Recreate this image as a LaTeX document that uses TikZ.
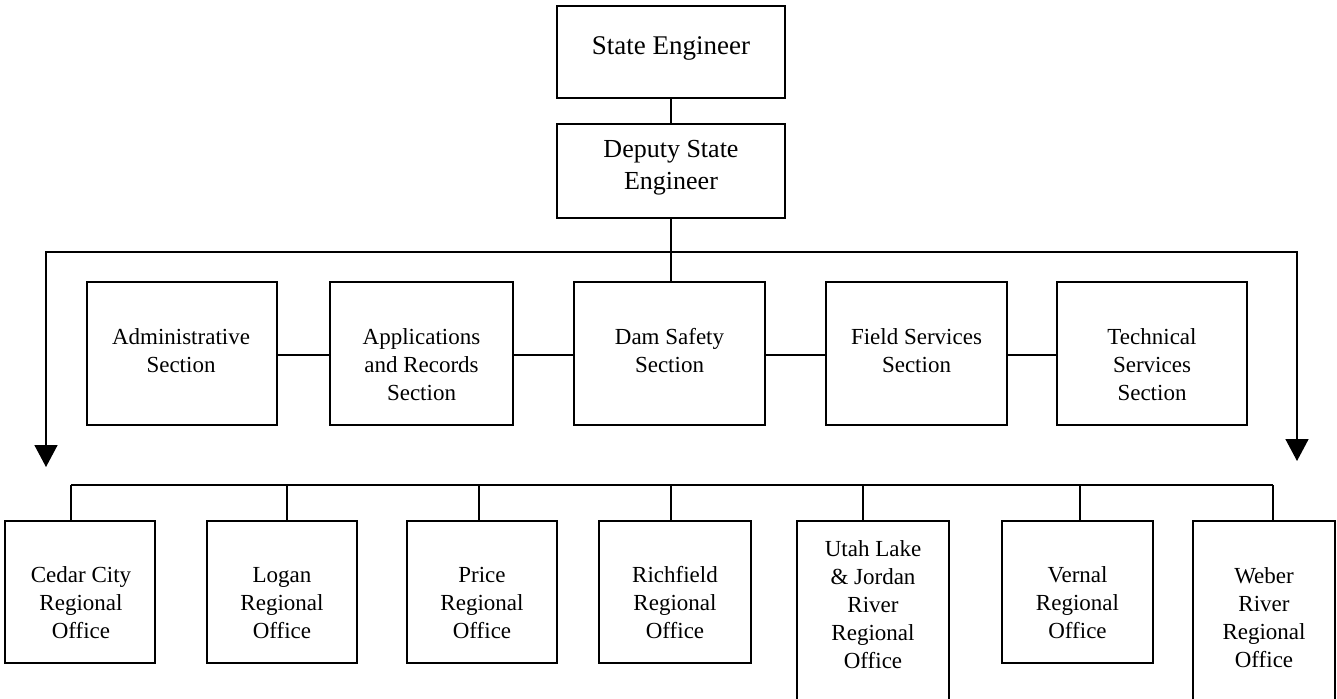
\documentclass[tikz,border=0pt]{standalone}
\usepackage{fontspec}
\setmainfont{Liberation Serif}
\usetikzlibrary{arrows.meta}
\tikzset{
  box/.style={draw, line width=1.6pt, inner sep=0pt},
  lbl/.style={align=center, inner sep=0pt, font=\fontsize{23}{28}\selectfont},
  toplbl/.style={align=center, inner sep=0pt, font=\fontsize{26}{32}\selectfont},
  conn/.style={line width=1.6pt},
  arr/.style={line width=1.6pt, -{Triangle[length=22pt,width=23pt]}}
}
\begin{document}
\begin{tikzpicture}[x=1pt,y=-1pt]
\useasboundingbox (0,0) rectangle (1337,698);
% top
\node[box, minimum width=228pt, minimum height=92pt] (se) at (671,52) {};
\node[toplbl, font=\fontsize{27}{32}\selectfont] (set) at (671,48) {State Engineer};
\node[box, minimum width=228pt, minimum height=94pt] (dse) at (671,171) {};
\node[toplbl] (dset) at (671,168) {Deputy State\\Engineer};
% sections
\node[box, minimum width=190pt, minimum height=143pt] (adm) at (182,353.5) {};
\node[lbl] (admt) at (181,351) {Administrative\\Section};
\node[box, minimum width=183pt, minimum height=143pt] (app) at (421.5,353.5) {};
\node[lbl] (appt) at (421.5,365) {Applications\\and Records\\Section};
\node[box, minimum width=191pt, minimum height=143pt] (dam) at (669.5,353.5) {};
\node[lbl] (damt) at (669.5,351) {Dam Safety\\Section};
\node[box, minimum width=181pt, minimum height=143pt] (fld) at (916.5,353.5) {};
\node[lbl] (fldt) at (916.5,351) {Field Services\\Section};
\node[box, minimum width=190pt, minimum height=143pt] (tec) at (1152,353.5) {};
\node[lbl] (tect) at (1152,365) {Technical\\Services\\Section};
% offices
\node[box, minimum width=150pt, minimum height=142pt] (ced) at (80,592) {};
\node[lbl] (cedt) at (81,603) {Cedar City\\Regional\\Office};
\node[box, minimum width=150pt, minimum height=142pt] (log) at (282,592) {};
\node[lbl] (logt) at (282,603) {Logan\\Regional\\Office};
\node[box, minimum width=150pt, minimum height=142pt] (pri) at (482,592) {};
\node[lbl] (prit) at (482,603) {Price\\Regional\\Office};
\node[box, minimum width=152pt, minimum height=142pt] (ric) at (675,592) {};
\node[lbl] (rict) at (675,603) {Richfield\\Regional\\Office};
\node[box, minimum width=152pt, minimum height=199pt] (uta) at (873,620.5) {};
\node[lbl] (utat) at (873,605) {Utah Lake\\\&~Jordan\\River\\Regional\\Office};
\node[box, minimum width=151pt, minimum height=142pt] (ver) at (1077.5,592) {};
\node[lbl] (vert) at (1077.5,603) {Vernal\\Regional\\Office};
\node[box, minimum width=142pt, minimum height=199pt] (web) at (1264,620.5) {};
\node[lbl] (webt) at (1264,618) {Weber\\River\\Regional\\Office};
% connectors top
\draw[conn] (se.south) -- (dse.north);
\draw[conn] (dse.south) -- (dse.south |- dam.north);
\coordinate (jL) at (46,252);
\coordinate (jR) at (1297,252);
\coordinate (tL) at (46,467);
\coordinate (tR) at (1297,461);
\draw[conn] (jL) -- (jR);
\draw[arr] (jR) -- (jL) -- (tL);
\draw[arr] (jL) -- (jR) -- (tR);
% section links
\draw[conn] ([yshift=-1.5pt]adm.east) -- ([yshift=-1.5pt]app.west);
\draw[conn] ([yshift=-1.5pt]app.east) -- ([yshift=-1.5pt]dam.west);
\draw[conn] ([yshift=-1.5pt]dam.east) -- ([yshift=-1.5pt]fld.west);
\draw[conn] ([yshift=-1.5pt]fld.east) -- ([yshift=-1.5pt]tec.west);
% bottom bus
\coordinate (b1) at (71,485);
\coordinate (b2) at (287,485);
\coordinate (b3) at (479,485);
\coordinate (b4) at (671,485);
\coordinate (b5) at (863,485);
\coordinate (b6) at (1080,485);
\coordinate (b7) at (1273,485);
\draw[conn] (b1) -- (b7);
\draw[conn] (b1) -- (b1 |- ced.north);
\draw[conn] (b2) -- (b2 |- log.north);
\draw[conn] (b3) -- (b3 |- pri.north);
\draw[conn] (b4) -- (b4 |- ric.north);
\draw[conn] (b5) -- (b5 |- uta.north);
\draw[conn] (b6) -- (b6 |- ver.north);
\draw[conn] (b7) -- (b7 |- web.north);
\end{tikzpicture}
\end{document}
